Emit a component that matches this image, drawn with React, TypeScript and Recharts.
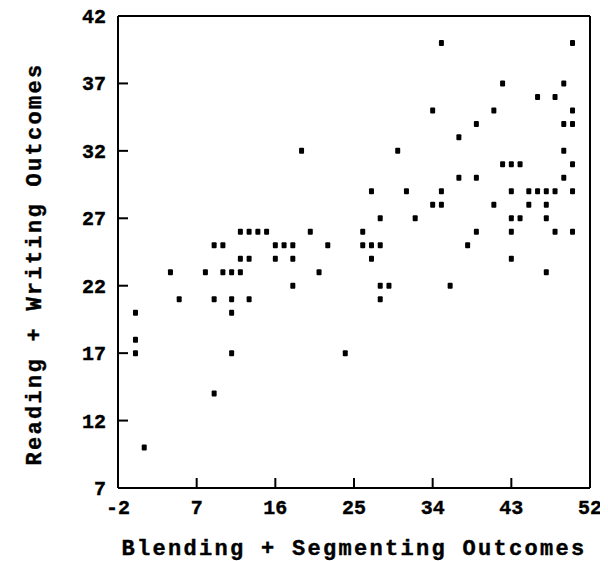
import { ScatterChart, Scatter, XAxis, YAxis, Label, ReferenceLine } from 'recharts'

// Blending + Segmenting outcome per child (x) and Reading + Writing outcome (y)
const blendSeg = [
  0, 0, 0, 1, 4, 5, 8, 9, 9, 9, 10, 10, 11, 11, 11, 11, 12, 12, 12, 13, 13, 13,
  14, 15, 16, 16, 17, 18, 18, 18, 19, 20, 21, 22, 24, 26, 26, 27, 27, 27, 28,
  28, 28, 28, 29, 30, 31, 32, 34, 34, 35, 35, 35, 36, 37, 37, 38, 39, 39, 39,
  41, 41, 42, 42, 43, 43, 43, 43, 43, 44, 44, 45, 45, 46, 46, 47, 47, 47, 47,
  48, 48, 48, 49, 49, 49, 49, 50, 50, 50, 50, 50, 50,
]
const readWrite = [
  20, 18, 17, 10, 23, 21, 23, 25, 21, 14, 25, 23, 23, 21, 20, 17, 26, 24, 23,
  26, 24, 21, 26, 26, 25, 24, 25, 25, 24, 22, 32, 26, 23, 25, 17, 26, 25, 29,
  25, 24, 27, 25, 22, 21, 22, 32, 29, 27, 35, 28, 40, 29, 28, 22, 33, 30, 25,
  34, 30, 26, 35, 28, 37, 31, 31, 29, 27, 26, 24, 31, 27, 29, 28, 36, 29, 29,
  28, 27, 23, 36, 29, 26, 37, 34, 32, 30, 40, 35, 34, 31, 29, 26,
]

const xTicks = [-2, 7, 16, 25, 34, 43, 52]
const yTicks = [7, 12, 17, 22, 27, 32, 37, 42]

const points = blendSeg.map((x, i) => ({ x, y: readWrite[i] }))

const W = 600
const H = 553
const LEFT = 110
const RIGHT = 582
const TOP = 8
const BOTTOM = 480

const FONT = '"Liberation Mono", "Courier New", monospace'
const TICK = -10 // negative size: tick marks point into the box

const txt = {
  fontFamily: FONT,
  fontWeight: 'bold' as const,
  fill: '#000',
  stroke: '#000',
  strokeWidth: 0.4,
}

const BottomLabel = ({ x, y, payload }: any) => (
  <text x={x} y={y + 26} textAnchor="middle" fontSize={20} {...txt}>
    {payload.value}
  </text>
)

const LeftLabel = ({ x, y, payload }: any) => (
  <text x={x - 12} y={y + 7} textAnchor="end" fontSize={20} {...txt}>
    {payload.value}
  </text>
)

const Square = ({ cx, cy }: any) => (
  <rect x={cx - 2.5} y={cy - 3} width={5} height={6} rx={1} fill="#000" />
)

export default function App() {
  return (
    <ScatterChart
      width={W}
      height={H}
      margin={{ top: TOP, right: W - RIGHT, bottom: 0, left: 0 }}
    >
      <XAxis
        dataKey="x"
        type="number"
        domain={[-2, 52]}
        ticks={xTicks}
        interval={0}
        height={H - BOTTOM}
        tickSize={TICK}
        tickMargin={10}
        tickLine={{ stroke: '#000', strokeWidth: 2 }}
        tick={<BottomLabel />}
        axisLine={{ stroke: '#000', strokeWidth: 2 }}
      >
        <Label
          content={({ viewBox }: any) => (
            <text
              x={viewBox.x + viewBox.width / 2}
              y={viewBox.y + 67}
              textAnchor="middle"
              fontSize={22}
              letterSpacing={2.3}
              {...txt}
            >
              Blending + Segmenting Outcomes
            </text>
          )}
        />
      </XAxis>
      <YAxis
        dataKey="y"
        type="number"
        domain={[7, 42]}
        ticks={yTicks}
        interval={0}
        width={LEFT}
        tickSize={TICK}
        tickMargin={10}
        tickLine={{ stroke: '#000', strokeWidth: 2 }}
        tick={<LeftLabel />}
        axisLine={{ stroke: '#000', strokeWidth: 2 }}
      >
        <Label
          content={({ viewBox }: any) => {
            const cy = viewBox.y + viewBox.height / 2 + 12
            return (
              <text
                x={27}
                y={cy}
                transform={`rotate(-90, 27, ${cy})`}
                textAnchor="middle"
                dominantBaseline="central"
                fontSize={22}
                letterSpacing={2.3}
                {...txt}
              >
                Reading + Writing Outcomes
              </text>
            )
          }}
        />
      </YAxis>
      <ReferenceLine y={42} stroke="#000" strokeWidth={2} />
      <ReferenceLine x={52} stroke="#000" strokeWidth={2} />
      <Scatter
        data={points}
        fill="#000"
        shape={<Square />}
        isAnimationActive={false}
      />
    </ScatterChart>
  )
}
